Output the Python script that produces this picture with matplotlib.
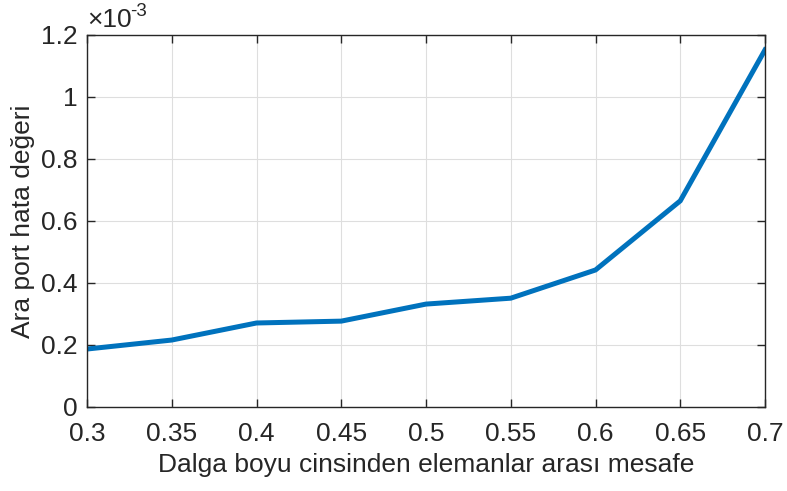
import matplotlib
matplotlib.use('Agg')
import matplotlib.pyplot as plt
from matplotlib.ticker import FuncFormatter

# ---------- données ----------
mesafe = [0.30, 0.35, 0.40, 0.45, 0.50, 0.55, 0.60, 0.65, 0.70]
hata = [0.187e-3, 0.216e-3, 0.271e-3, 0.277e-3, 0.332e-3, 0.351e-3, 0.442e-3, 0.665e-3, 1.152e-3]
x_ticks = [0.3, 0.35, 0.4, 0.45, 0.5, 0.55, 0.6, 0.65, 0.7]
y_ticks = [0, 0.2e-3, 0.4e-3, 0.6e-3, 0.8e-3, 1.0e-3, 1.2e-3]

plt.rcParams['font.family'] = ['Liberation Sans', 'DejaVu Sans']
AX_COL = '#262626'
FS = 19

fig = plt.figure(figsize=(7.87, 4.91), dpi=100)
ax = fig.add_axes([87 / 787, 84 / 491, (765 - 87) / 787, (407 - 35) / 491])

ax.plot(mesafe, hata, color='#0072BD', lw=3.6, solid_joinstyle='miter')

ax.set_xlim(0.3, 0.7)
ax.set_ylim(0, 1.2e-3)
ax.set_xticks(x_ticks)
ax.set_yticks(y_ticks)
ax.xaxis.set_major_formatter(FuncFormatter(lambda v, p: f"{v:g}"))
ax.yaxis.set_major_formatter(FuncFormatter(lambda v, p: f"{v * 1e3:g}"))

ax.grid(True, color='#dedede', lw=0.8)
ax.set_axisbelow(True)
for s in ax.spines.values():
    s.set_color(AX_COL)
    s.set_linewidth(1.0)
ax.tick_params(direction='in', length=6, width=1.0, colors=AX_COL,
               labelsize=FS, top=True, right=True)
ax.tick_params(axis='x', pad=11)
ax.tick_params(axis='y', pad=7)

ax.set_xlabel("Dalga boyu cinsinden elemanlar arası mesafe", fontsize=FS, color=AX_COL, labelpad=5)
ax.set_ylabel("Ara port hata değeri", fontsize=FS, color=AX_COL, labelpad=4)

# facteur d'échelle style MATLAB
ax.text(0.0, 1.0215, "\u00d710", transform=ax.transAxes, fontsize=FS,
        color=AX_COL, ha='left', va='baseline')
ax.text(0.064, 1.05, "-3", transform=ax.transAxes, fontsize=13.5,
        color=AX_COL, ha='left', va='baseline')

fig.savefig("out.png", dpi=100)
